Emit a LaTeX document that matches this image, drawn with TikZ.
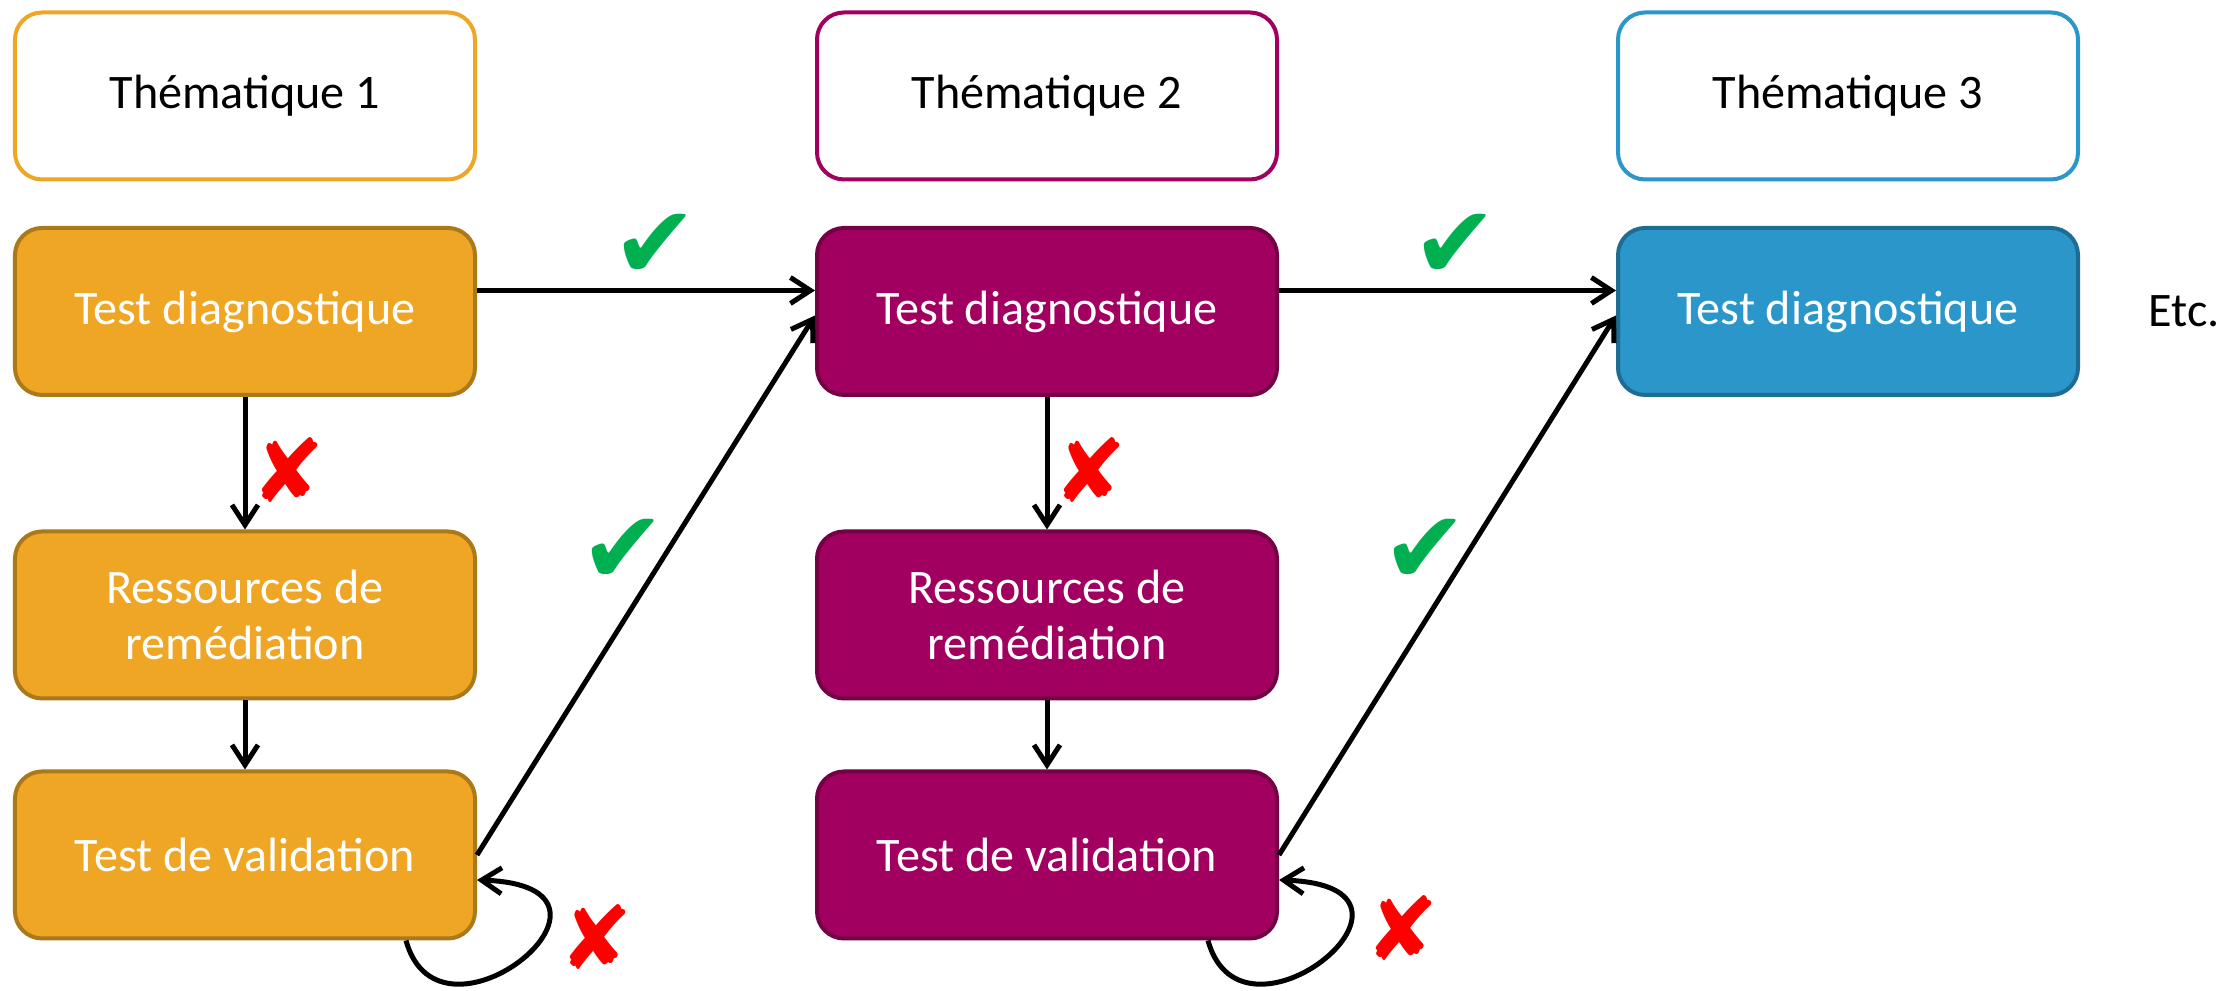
\documentclass[tikz,border=0pt]{standalone}
\usepackage{fontspec}
\setmainfont{Carlito}
\newfontfamily\symbfont{DejaVu Sans}
\definecolor{themeorange}{RGB}{238, 166, 36}
\definecolor{themepurple}{RGB}{161, 0, 96}
\definecolor{themeblue}{RGB}{42, 150, 201}
\definecolor{okgreen}{RGB}{0, 176, 80}
\definecolor{kored}{RGB}{255, 0, 0}
\usetikzlibrary{arrows.meta}

\begin{document}
\begin{tikzpicture}[
  header/.style={draw=#1, fill=white, rounded corners=0.27cm, line width=0.04cm, minimum width=4.6cm, minimum height=1.67cm, align=center, font=\fontsize{13.7}{16}\selectfont, inner sep=3pt},
  stage/.style={draw=#1!72!black, fill=#1, text=white, rounded corners=0.27cm, line width=0.04cm, minimum width=4.6cm, minimum height=1.67cm, align=center, font=\fontsize{13.7}{16}\selectfont, inner sep=3pt},
  arr/.style={-{Straight Barb[length=0.2cm, width=0.26cm]}, line width=0.05cm, black},
  ok/.style={text=okgreen, font=\symbfont\fontsize{29}{29}\selectfont, inner sep=0pt},
  ko/.style={text=kored, font=\symbfont\fontsize{25}{25}\selectfont, inner sep=0pt},
]
  \useasboundingbox (0, 0) rectangle (22.39, 9.91);

  % Headers
  \node[header=themeorange] (th1) at (2.45, 8.95) {Thématique 1};
  \node[header=themepurple] (th2) at (10.47, 8.95) {Thématique 2};
  \node[header=themeblue] (th3) at (18.48, 8.95) {Thématique 3};

  % Stages
  \node[stage=themeorange] (td1) at (2.45, 6.795) {Test diagnostique};
  \node[stage=themeorange] (rs1) at (2.45, 3.76) {Ressources de\\remédiation};
  \node[stage=themeorange] (tv1) at (2.45, 1.36) {Test de validation};
  \node[stage=themepurple] (td2) at (10.47, 6.795) {Test diagnostique};
  \node[stage=themepurple] (rs2) at (10.47, 3.76) {Ressources de\\remédiation};
  \node[stage=themepurple] (tv2) at (10.47, 1.36) {Test de validation};
  \node[stage=themeblue] (td3) at (18.48, 6.795) {Test diagnostique};
  \node[font=\fontsize{13.7}{16}\selectfont] (etc) at (21.84, 6.8) {Etc.};

  % Marks
  \node[ok] (ok1) at (6.55, 7.45) {✔};
  \node[ok] (ok2) at (14.55, 7.45) {✔};
  \node[ok] (ok3) at (6.23, 4.40) {✔};
  \node[ok] (ok4) at (14.25, 4.40) {✔};
  \node[ko] (ko1) at (2.88, 5.21) {✘};
  \node[ko] (ko2) at (10.90, 5.21) {✘};
  \node[ko] (ko3) at (5.96, 0.54) {✘};
  \node[ko] (ko4) at (14.02, 0.63) {✘};

  \draw[arr] ([yshift=0.21cm]td1.east) -- ([yshift=0.21cm]td2.west);
  \draw[arr] ([yshift=0.21cm]td2.east) -- ([yshift=0.21cm]td3.west);
  \draw[arr] (td1) -- (rs1);
  \draw[arr] (rs1) -- (tv1);
  \draw[arr] (td2) -- (rs2);
  \draw[arr] (rs2) -- (tv2);
  \draw[arr] (tv1.east) -- ([yshift=-0.04cm]td2.west);
  \draw[arr] (tv2.east) -- ([yshift=-0.04cm]td3.west);
  \draw[arr] ([xshift=-0.71cm]tv1.south east) .. controls +(0.34, -1.24) and +(1.8, -0.06) .. ([yshift=-0.25cm]tv1.east);
  \draw[arr] ([xshift=-0.71cm]tv2.south east) .. controls +(0.34, -1.24) and +(1.8, -0.06) .. ([yshift=-0.25cm]tv2.east);
\end{tikzpicture}
\end{document}
